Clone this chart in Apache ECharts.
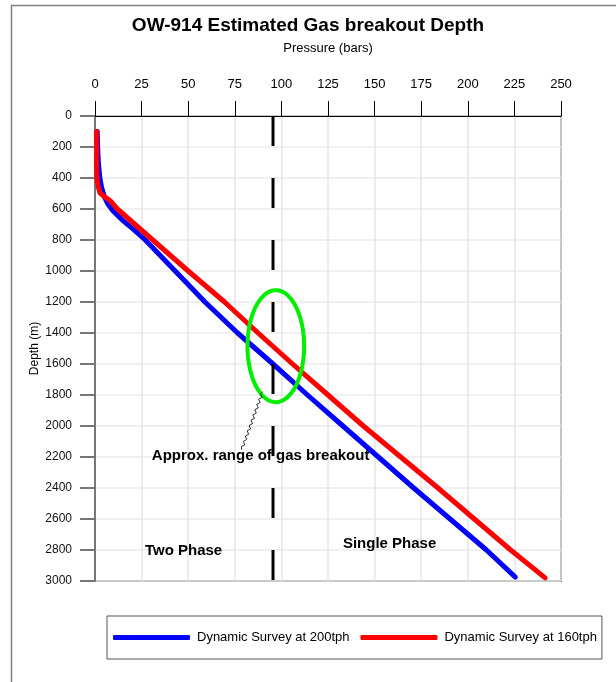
<!DOCTYPE html>
<html><head><meta charset="utf-8">
<script src="https://cdn.jsdelivr.net/npm/echarts@6.0.0/dist/echarts.min.js"></script>
<style>html,body{margin:0;padding:0;background:#fff}#c{width:616px;height:682px}</style>
</head><body><div id="c"></div>
<script>
// ---- data ----
const seriesNames = ['Dynamic Survey at 200tph', 'Dynamic Survey at 160tph'];
const blueDepth    = [100, 200, 300, 400, 460, 520, 570, 610, 670, 730, 800, 900, 1000, 1200, 1400, 1600, 1800, 2000, 2200, 2400, 2600, 2800, 2975];
const bluePressure = [1.2, 1.4, 1.8, 2.6, 3.5, 5, 7, 9.5, 14.5, 20.5, 27, 35, 43, 59, 76.5, 95.5, 114, 133, 152, 171, 190.5, 210, 225.5];
const redDepth     = [100, 200, 300, 400, 450, 497, 520, 545, 600, 700, 800, 900, 1000, 1200, 1400, 1600, 1800, 2000, 2200, 2400, 2600, 2800, 2980];
const redPressure  = [0.9, 0.9, 0.9, 1.0, 1.6, 2.7, 5, 8, 12, 21.5, 31, 40.5, 50, 69.5, 87.5, 106, 125, 144, 164, 184, 203.5, 223, 241.5];
const breakoutPressure = 95.5;          // dashed vertical line
const breakoutDepthRange = [0, 3000];
const ellipseCenter = [97, 1485];       // pressure, depth
const ellipseRadius = [15.2, 361];      // pressure, depth
const leaderFrom = [90, 1778];
const leaderTo = [78.7, 2153];
const annotations = [
  {text: 'Approx. range of gas breakout', at: [30.5, 2190]},
  {text: 'Two Phase', at: [26.8, 2805]},
  {text: 'Single Phase', at: [133, 2760]}
];
const xTicks = {min: 0, max: 250, interval: 25};
const yTicks = {min: 0, max: 3000, interval: 200};

const FONT = 'Arial, "Liberation Sans", sans-serif';
const chart = echarts.init(document.getElementById('c'), null, {renderer: 'canvas'});

function pairs(xs, ys){ return xs.map((x,i)=>[x, ys[i]]); }

chart.setOption({
  animation: false,
  backgroundColor: '#fff',
  textStyle: {fontFamily: FONT},
  title: {
    text: 'OW-914 Estimated Gas breakout Depth',
    left: 'center', top: 11,
    textStyle: {fontSize: 19, fontWeight: 'bold', color: '#000', fontFamily: FONT}
  },
  grid: {left: 95, right: 55, top: 116, bottom: 101, show: true, borderColor: '#666', borderWidth: 2, containLabel: false},
  legend: {
    data: seriesNames,
    left: 107, top: 616,
    padding: [15, 5, 15, 6],
    icon: 'roundRect',
    itemWidth: 77, itemHeight: 5, itemGap: 11,
    borderColor: '#555', borderWidth: 1,
    textStyle: {fontSize: 13, color: '#000', fontFamily: FONT, padding: [0, 0, 0, 2]}
  },
  xAxis: {
    type: 'value', position: 'top',
    min: xTicks.min, max: xTicks.max, interval: xTicks.interval,
    name: 'Pressure (bars)', nameLocation: 'middle', nameGap: 61,
    nameTextStyle: {fontSize: 13, color: '#000', fontFamily: FONT},
    axisLine: {show: true, lineStyle: {color: '#000', width: 1}},
    axisTick: {show: true, inside: false, length: 15, lineStyle: {color: '#000', width: 1}},
    axisLabel: {fontSize: 13, color: '#000', margin: 25, fontFamily: FONT, formatter: v => String(v)},
    splitLine: {show: true, lineStyle: {color: '#e6e6e6', width: 1.5}}
  },
  yAxis: {
    type: 'value', inverse: true,
    min: yTicks.min, max: yTicks.max, interval: yTicks.interval,
    name: 'Depth (m)', nameLocation: 'middle', nameGap: 54, nameMoveOverlap: false,
    nameTextStyle: {fontSize: 12, color: '#000', fontFamily: FONT},
    axisLine: {show: true, lineStyle: {color: '#777', width: 2}},
    axisTick: {show: true, inside: false, length: 15, lineStyle: {color: '#777', width: 2}},
    axisLabel: {fontSize: 12, color: '#111', margin: 23, fontFamily: FONT, formatter: v => String(v)},
    splitLine: {show: true, lineStyle: {color: '#ebebeb', width: 1.5}}
  },
  series: [
    {name: seriesNames[0], type: 'line', data: pairs(bluePressure, blueDepth), symbol: 'none', z: 2,
     lineStyle: {color: '#0000ff', width: 5, cap: 'round', join: 'round'}, itemStyle: {color: '#0000ff'}},
    {name: seriesNames[1], type: 'line', data: pairs(redPressure, redDepth), symbol: 'none', z: 3,
     lineStyle: {color: '#ff0000', width: 5, cap: 'round', join: 'round'}, itemStyle: {color: '#ff0000'}},
    {name: 'breakout', type: 'line', data: breakoutDepthRange.map(d=>[breakoutPressure, d]), symbol: 'none', z: 4,
     lineStyle: {color: '#000', width: 3, type: [30, 32]}, silent: true}
  ]
});

// annotations positioned via the chart's own scales
const px = p => chart.convertToPixel({gridIndex: 0}, p);
const ellipsePts = [];
for (let i = 0; i < 120; i++) {
  const t = i / 120 * Math.PI * 2;
  ellipsePts.push(px([ellipseCenter[0] + ellipseRadius[0]*Math.cos(t), ellipseCenter[1] + ellipseRadius[1]*Math.sin(t)]));
}
const a = px(leaderFrom), b = px(leaderTo);
const leaderPts = [];
const n = 22;
const dx = b[0]-a[0], dy = b[1]-a[1], len = Math.hypot(dx, dy), nx = -dy/len, ny = dx/len;
for (let i = 0; i <= n; i++) {
  const f = i/n, off = (i === 0 || i === n) ? 0 : (i % 2 ? 1.3 : -1.3);
  leaderPts.push([a[0]+dx*f+nx*off, a[1]+dy*f+ny*off]);
}
const graphics = [
  {type: 'rect', shape: {x: 11.5, y: 5.5, width: 800, height: 900}, style: {fill: null, stroke: '#808080', lineWidth: 1.5}, z: 0, silent: true},
  {type: 'polygon', shape: {points: ellipsePts}, style: {fill: null, stroke: '#00ee00', lineWidth: 4}, z: 10},
  {type: 'polyline', shape: {points: leaderPts}, style: {stroke: '#000', lineWidth: 0.8, fill: null}, z: 10}
];
annotations.forEach(an => {
  const p = px(an.at);
  graphics.push({type: 'text', x: p[0], y: p[1], z: 11,
    style: {text: an.text, fill: '#000', font: 'bold 15px ' + FONT, textAlign: 'left', textVerticalAlign: 'middle'}});
});
chart.setOption({graphic: graphics});
</script></body></html>
